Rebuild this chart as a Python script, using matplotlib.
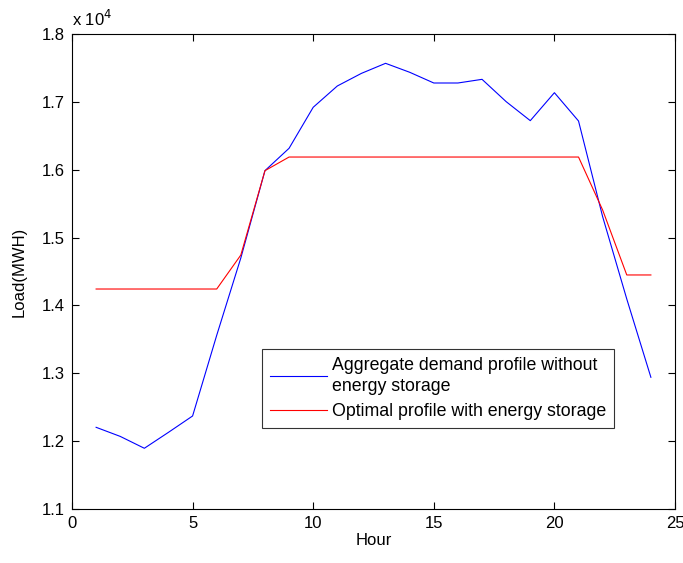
import matplotlib
matplotlib.use("Agg")
import matplotlib.pyplot as plt
from matplotlib.ticker import FuncFormatter

plt.rcParams['font.family'] = ['Liberation Sans', 'DejaVu Sans']

# hourly load, MWh
hours = list(range(1, 25))
demand = [12204, 12070, 11895, 12130, 12371, 13560, 14700, 15986,
          16316, 16920, 17234, 17420, 17568, 17436, 17278, 17278,
          17332, 17003, 16723, 17135, 16718, 15308, 14095, 12941]
optimal = [14242, 14242, 14242, 14242, 14242, 14242, 14743, 15986,
           16187, 16187, 16187, 16187, 16187, 16187, 16187, 16187,
           16187, 16187, 16187, 16187, 16187, 15406, 14449, 14449]

labels = ['Aggregate demand profile without\nenergy storage',
          'Optimal profile with energy storage']

fs = 12

fig = plt.figure(figsize=(6.83, 5.63), dpi=100)
ax = fig.add_axes([0.1054, 0.0959, 0.8829, 0.8437])

ax.plot(hours, demand, color='#0000ff', linewidth=0.8, label=labels[0])
ax.plot(hours, optimal, color='#ff0000', linewidth=0.8, label=labels[1])

ax.set_xlim(0, 25)
ax.set_ylim(11000, 18000)
ax.set_xticks(range(0, 26, 5))
ax.set_yticks(range(11000, 18001, 1000))
ax.yaxis.set_major_formatter(FuncFormatter(lambda v, p: '%g' % (v / 1e4)))

ax.tick_params(direction='in', top=True, right=True, length=5,
               labelsize=fs, width=0.8, pad=5)
for s in ax.spines.values():
    s.set_linewidth(0.8)

ax.set_xlabel('Hour', fontsize=fs)
ax.set_ylabel('Load(MWH)', fontsize=fs)
ax.xaxis.set_label_coords(0.5, -0.05)
ax.yaxis.set_label_coords(-0.076, 0.5)
ax.text(0.0, 1.01, r'x 10$^4$', transform=ax.transAxes, fontsize=fs,
        ha='left', va='bottom')

leg = ax.legend(loc='upper left', bbox_to_anchor=(0.3146, 0.3368),
                fontsize=12.8, frameon=True, fancybox=False,
                borderaxespad=0, handlelength=3.2, handletextpad=0.3,
                labelspacing=0.45, borderpad=0.45)
for t in leg.get_texts():
    t.set_linespacing(1.3)
leg.get_frame().set_edgecolor('black')
leg.get_frame().set_linewidth(0.8)

fig.savefig('out.png', dpi=100)
